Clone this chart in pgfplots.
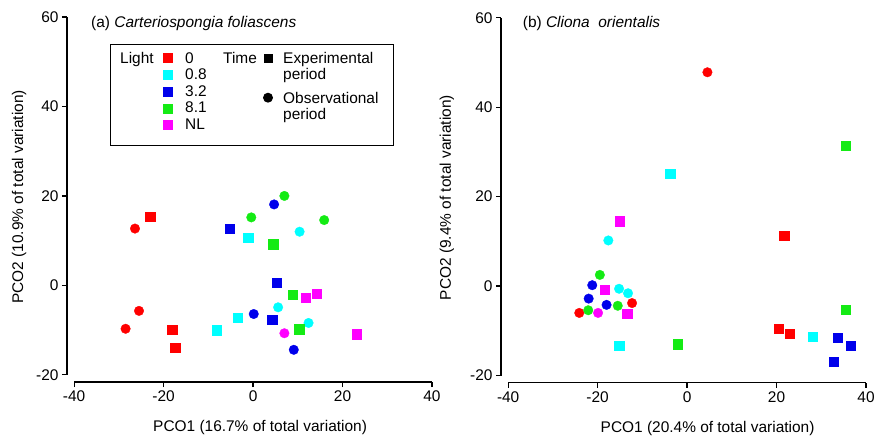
\documentclass[border=0pt]{standalone}
\usepackage{fontspec}
\setmainfont{Liberation Sans}
\usepackage{pgfplots}
\pgfplotsset{compat=1.18}
\definecolor{cR}{RGB}{255,0,0}
\definecolor{cC}{RGB}{0,255,255}
\definecolor{cB}{RGB}{0,0,235}
\definecolor{cG}{RGB}{20,235,20}
\definecolor{cM}{RGB}{255,0,255}
\newcommand{\fs}{\fontsize{15.5}{17}\selectfont}
\pgfplotsset{
  pco/.style={
    scale only axis, width=365bp, height=365bp,
    xmin=-41.6, xmax=40, ymin=-21.6, ymax=60,
    axis x line*=bottom, axis y line*=left,
    axis line style={draw=none},
    xtick={-40,-20,0,20,40}, ytick={-20,0,20,40,60},
    tick align=outside, major tick length=5bp,
    tick style={black, line width=1.2bp},
    tick label style={font=\fs},
    /pgf/number format/assume math mode=true,
    label style={font=\fs},
    clip=false,
  },
  sq/.style={only marks, mark=square*, mark size=4.6bp, color=#1, mark options={line width=0.3bp}},
  ci/.style={only marks, mark=*, mark size=4.8bp, color=#1, mark options={line width=0.3bp}},
}
\begin{document}
\begin{tikzpicture}
\useasboundingbox (0,0) rectangle (877bp,438bp);
% Panel a
\begin{axis}[pco, at={(67bp,56bp)}, anchor=south west,
  xlabel={PCO1 (16.7\% of total variation)},
  ylabel={PCO2 (10.9\% of total variation)},
  xlabel style={at={(axis description cs:0.529,-0.126)}, anchor=center},
  ylabel style={at={(axis description cs:-0.131,0.507)}, anchor=center, rotate=0}]
\draw[line width=1.2bp] (axis cs:-40,-21.6) -- (axis cs:40,-21.6);
\draw[line width=1.2bp] (axis cs:-41.6,-20) -- (axis cs:-41.6,60);
\addplot[sq=cR] coordinates {(-23.0,15.3) (-18.1,-9.9) (-17.4,-14.0)};
\addplot[ci=cR] coordinates {(-26.4,12.7) (-25.5,-5.7) (-28.5,-9.7)};
\addplot[sq=cC] coordinates {(-1.1,10.7) (-3.5,-7.2) (-8.1,-10.0)};
\addplot[ci=cC] coordinates {(10.4,12.0) (5.6,-4.9) (12.4,-8.4)};
\addplot[sq=cB] coordinates {(-5.2,12.7) (5.3,0.7) (4.25,-7.7)};
\addplot[ci=cB] coordinates {(4.7,18.1) (0.15,-6.4) (9.1,-14.4)};
\addplot[sq=cG] coordinates {(4.5,9.2) (8.9,-2.1) (10.3,-9.8)};
\addplot[ci=cG] coordinates {(7.0,20.0) (-0.4,15.2) (15.9,14.6)};
\addplot[sq=cM] coordinates {(11.7,-2.8) (14.2,-1.9) (23.1,-10.9)};
\addplot[ci=cM] coordinates {(7.0,-10.7)};
\end{axis}
% Panel b
\begin{axis}[pco, at={(501bp,55.3bp)}, anchor=south west,
  xlabel={PCO1 (20.4\% of total variation)},
  ylabel={PCO2 (9.4\% of total variation)},
  xlabel style={at={(axis description cs:0.566,-0.126)}, anchor=center},
  ylabel style={at={(axis description cs:-0.148,0.507)}, anchor=center}]
\draw[line width=1.2bp] (axis cs:-40,-21.6) -- (axis cs:40,-21.6);
\draw[line width=1.2bp] (axis cs:-41.6,-20) -- (axis cs:-41.6,60);
\addplot[ci=cR] coordinates {(4.55,47.8) (-12.3,-3.8) (-24.1,-6.0)};
\addplot[sq=cR] coordinates {(21.7,11.3) (20.5,-9.6) (22.9,-10.7)};
\addplot[sq=cC] coordinates {(-3.8,25.2) (-15.2,-13.3) (28.1,-11.3)};
\addplot[ci=cC] coordinates {(-17.6,10.2) (-15.2,-0.6) (-13.2,-1.6)};
\addplot[ci=cB] coordinates {(-21.2,0.2) (-22.0,-2.8) (-18.0,-4.2)};
\addplot[sq=cB] coordinates {(33.6,-11.5) (36.5,-13.3) (32.7,-16.9)};
\addplot[sq=cG] coordinates {(35.5,31.4) (-2.1,-13.0) (35.5,-5.3)};
\addplot[ci=cG] coordinates {(-19.5,2.5) (-15.5,-4.4) (-22.1,-5.4)};
\addplot[sq=cM] coordinates {(-15.0,14.5) (-18.4,-0.8) (-13.4,-6.2)};
\addplot[ci=cM] coordinates {(-19.9,-6.0)};
\end{axis}
% titles
\node[anchor=base west, inner sep=0, font=\fs] at (91bp,410.7bp) {(a) \textit{Carteriospongia foliascens}};
\node[anchor=base west, inner sep=0, font=\fs] at (522.7bp,410.7bp) {(b) \textit{Cliona\ \ orientalis}};
% legend
\draw[line width=1bp] (110bp,292bp) rectangle (393bp,393bp);
\begin{scope}[every node/.style={anchor=base west, inner sep=0, font=\fs}]
\node at (120bp,374.7bp) {Light};
\fill[cR] (163bp,374.7bp) rectangle (173bp,384.7bp);
\fill[cC] (163bp,357.7bp) rectangle (173bp,367.7bp);
\fill[cB] (163bp,341bp) rectangle (173bp,351bp);
\fill[cG] (163bp,324.3bp) rectangle (173bp,334.3bp);
\fill[cM] (163bp,308.3bp) rectangle (173bp,318.3bp);
\node at (185bp,374.7bp) {0};
\node at (185bp,358bp) {0.8};
\node at (185bp,341.3bp) {3.2};
\node at (185bp,325.3bp) {8.1};
\node at (185bp,308.7bp) {NL};
\node at (223bp,374.7bp) {Time};
\fill[black] (263.5bp,375.2bp) rectangle (272.5bp,384.2bp);
\fill[black] (268bp,340.3bp) circle (5bp);
\node at (283bp,374.7bp) {Experimental};
\node at (283bp,358bp) {period};
\node at (283bp,334.7bp) {Observational};
\node at (283bp,318bp) {period};
\end{scope}
\end{tikzpicture}
\end{document}
